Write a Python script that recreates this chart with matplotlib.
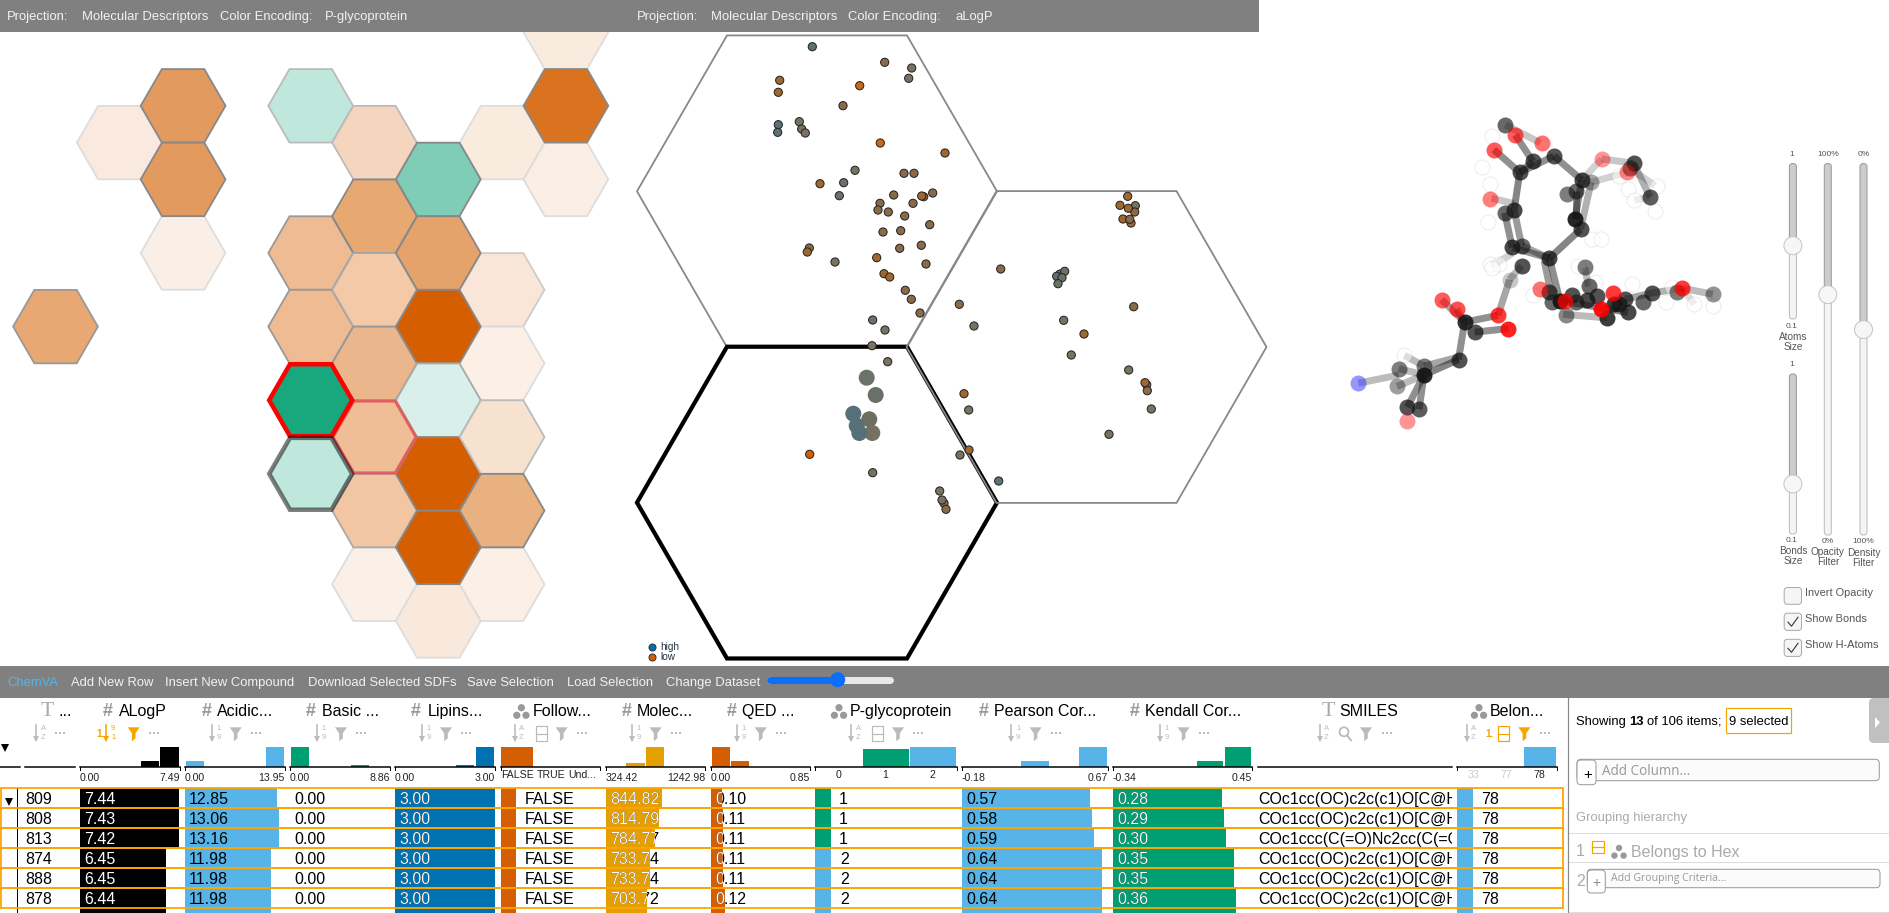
import matplotlib
matplotlib.use("Agg")
import matplotlib.pyplot as plt
from matplotlib.patches import Polygon, Rectangle, Circle, FancyBboxPatch
from matplotlib.transforms import Bbox, TransformedBbox
import numpy as np

plt.rcParams['font.family'] = ['Liberation Sans', 'DejaVu Sans']

# -----------------------------
# Data: hexagon map (grid column, half row, fill, edge)
# -----------------------------
hex_col = [8, 8, 8, 2, 2, 2, 1, 0, 4, 4, 4, 5, 5, 5, 5, 5, 5, 5, 6, 6, 6, 6, 6, 6, 6, 7, 7, 7, 7, 7, 7]
hex_row = [0, 2, 4, 2, 4, 6, 3, 8, 2, 6, 8, 3, 5, 7, 9, 13, 15, 11, 4, 6, 8, 10, 12, 14, 16, 3, 7, 9, 11, 13, 15]
hex_fill = ['#faebdf', '#d97320', '#fbefe5', '#e39a5f', '#e39a5f', '#f9efe6', '#f9e9de', '#e7a873',
            '#c0e7dc', '#eebb92', '#eebb92', '#f5d5bd', '#e7a872', '#f3c9a8', '#ecb68c', '#f2c6a3',
            '#fbf0e7', '#efbd96', '#7fcdb6', '#e6a26b', '#d55e00', '#d9f0ea', '#d55e00', '#d55e00',
            '#f9e9dd', '#faebdf', '#fae6d8', '#fbefe6', '#f7e2d0', '#e9b080', '#fbefe6']
hex_edge = ['#dddddd', '#888888', '#dddddd', '#888888', '#888888', '#dddddd', '#dddddd', '#999999',
            '#bbbbbb', '#999999', '#999999', '#bbbbbb', '#888888', '#aaaaaa', '#999999', '#aaaaaa',
            '#dddddd', '#aaaaaa', '#888888', '#888888', '#888888', '#aaaaaa', '#888888', '#888888',
            '#dddddd', '#dddddd', '#cccccc', '#dddddd', '#bbbbbb', '#888888', '#dddddd']

# Selected hexes, drawn on top: (column, half row, fill)
sel_red = (4, 10, '#19a77e')
sel_soft = (5, 11, '#efbd96')
sel_grey = (4, 12, '#c0e7dc')

# -----------------------------
# Data: projection points (pixel position of screenshot, colour)
# -----------------------------
brown = '#8a6a48'
olive = '#7a7260'
teal = '#5a7276'
orange = '#c86a18'
copper = '#a0682f'
slate = '#6a7268'

pts_x = [812.3, 884.7, 911.7, 908.7, 779.7, 859.7, 778.3, 843, 778.3, 777.7, 799.3, 801.7, 805.3, 880.3, 945,
         855, 904, 914, 820, 843.7, 839.3, 893.7, 923.7, 921.7, 932.7, 880, 913, 878, 888.3, 904.7, 929.7,
         900.7, 883, 921.3, 899.7, 809.3, 807.3, 835, 876.7, 926, 884, 889.7, 905.3, 911.3, 920, 872.7, 885,
         872, 1000.7, 959.3, 974,
         1127.7, 1120, 1135.3, 1134.7, 1128.3, 1123, 1131, 1129.7, 1060, 1064.7, 1056.7, 1062, 1058,
         1133.7, 1063.7, 1084, 1071.3, 1128.7,
         887.7, 1146.7, 1145, 1147.3, 1151.3, 1109, 964, 968.7, 969, 960, 998.7, 809.7, 872.7, 939.7, 944, 942, 946]
pts_y = [46.7, 62.3, 68, 78.3, 80.3, 85.7, 92.3, 105.7, 124.7, 132.3, 121.7, 129, 133, 143, 153,
         170.3, 173.3, 173.3, 183.7, 182.7, 195.7, 195, 196.7, 196, 193, 203.3, 203.3, 210, 212, 216, 224.7,
         230.7, 232, 245.3, 248.3, 248, 252, 262, 257.7, 264, 273.7, 277, 290.3, 299.3, 313, 320, 330,
         345.7, 269, 304.3, 326,
         196.3, 205.3, 205.7, 212, 208.3, 219, 223, 219.3, 274, 271.3, 276.3, 277.7, 283.7,
         306.7, 320.3, 334, 355, 370,
         361.7, 384.7, 382.7, 390.7, 409, 434.3, 393.7, 410, 450, 455, 481, 454.3, 472.7, 491, 503.3, 500, 509.3]
pts_c = [teal, brown, olive, olive, copper, orange, copper, brown, teal, teal, olive, olive, olive, orange, copper,
         olive, brown, brown, copper, slate, slate, brown, brown, copper, brown, brown, brown, brown, brown, brown, brown,
         brown, brown, brown, brown, brown, copper, olive, copper, brown, copper, copper, brown, brown, brown, slate, olive,
         olive, brown, brown, olive,
         copper, copper, olive, brown, copper, copper, copper, brown, slate, slate, teal, slate, slate,
         brown, olive, copper, olive, olive,
         olive, olive, copper, brown, olive, olive, copper, olive, copper, olive, teal, '#d55e00', olive, olive, olive, olive, brown]

big_x = [866.7, 875.7, 853.3, 869.3, 856.7, 872.3, 859.3]
big_y = [377.7, 395, 413.7, 419.3, 425.7, 433, 433]
big_c = ['#6b7268', '#697268', '#557078', '#6d7060', '#5a7078', '#75705f', '#557078']

# -----------------------------
# Data: molecule (read in the crop scale, converted below)
# -----------------------------
carbon = [(547, 70, .7), (585, 203, .8), (620, 172, .8), (676, 157, .8), (750, 224, .85), (735, 255, .7),
          (710, 262, .6), (775, 230, .4), (888, 177, .8), (878, 190, .6), (932, 272, .75), (570, 308, .85),
          (545, 316, .7), (732, 333, 1), (747, 362, .8), (565, 413, .85), (590, 408, .7), (664, 443, .85),
          (592, 464, .8), (758, 469, .6), (662, 538, .8), (692, 562, 1), (672, 565, .7), (725, 545, .8),
          (735, 565, .7), (768, 522, .7), (790, 550, .8), (765, 560, .85), (835, 570, .9), (865, 558, .8),
          (850, 570, .85), (873, 595, .85), (817, 610, .9), (707, 602, .55), (912, 567, .7), (938, 540, .8),
          (1003, 538, .6), (1099, 544, .5), (438, 622, .95), (465, 650, .8), (422, 727, .8), (330, 770, 1),
          (330, 745, .6), (263, 752, .6), (258, 802, .45), (286, 860, .8), (317, 866, .75), (558, 503, .25)]
oxygen = [(573, 98, .7), (643, 121, .6), (516, 139, .7), (803, 165, .45), (870, 203, .5), (506, 278, .55),
          (377, 559, .7), (417, 585, .75), (527, 603, .85), (555, 640, .95), (1018, 527, .85), (800, 584, 1),
          (832, 541, .85), (705, 562, .8), (640, 530, .6), (284, 898, .45)]
nitrogen = [(155, 793, .55)]
hydrogen = [(510, 100), (485, 187), (505, 236), (500, 342), (505, 460), (530, 460), (510, 470), (778, 390),
            (800, 390), (872, 250), (890, 280), (945, 310), (950, 240), (850, 212), (278, 715), (620, 545),
            (885, 515), (975, 565), (1050, 572), (1100, 578), (990, 525), (740, 465), (785, 510)]
bonds = [(547, 70, 640, 120, .25), (573, 98, 620, 172, .5), (516, 139, 585, 203, .5), (585, 203, 676, 157, .5),
         (620, 172, 585, 203, .5), (676, 157, 750, 224, .5), (585, 203, 570, 308, .55), (570, 308, 590, 408, .45),
         (545, 316, 565, 413, .5), (570, 290, 510, 275, .25), (565, 413, 664, 443, .5), (590, 408, 664, 443, .4),
         (664, 443, 747, 362, .55), (750, 224, 732, 333, .5), (735, 255, 735, 333, .5), (775, 230, 747, 362, .35),
         (750, 224, 803, 165, .2), (775, 230, 870, 203, .2), (803, 165, 888, 177, .25), (888, 177, 932, 272, .35),
         (878, 190, 945, 240, .2), (932, 272, 890, 280, .15), (664, 443, 692, 562, .5), (650, 450, 670, 550, .45),
         (565, 430, 510, 465, .2), (590, 464, 558, 503, .3), (558, 503, 527, 603, .4), (527, 603, 438, 622, .5),
         (438, 622, 377, 559, .4), (438, 622, 417, 585, .4), (465, 650, 555, 640, .5), (438, 622, 422, 727, .5),
         (422, 727, 330, 770, .55), (422, 720, 330, 745, .4), (330, 770, 263, 752, .3), (330, 770, 258, 802, .3),
         (263, 770, 155, 793, .3), (330, 770, 286, 860, .5), (330, 770, 317, 866, .5), (330, 745, 278, 715, .3),
         (692, 562, 873, 595, .5), (758, 469, 768, 522, .3), (865, 558, 938, 540, .4), (938, 540, 1018, 527, .35),
         (1018, 527, 1099, 544, .3), (1018, 527, 1050, 572, .15), (700, 600, 817, 610, .3)]

# -----------------------------
# Data: table
# -----------------------------
row_ids = ['809', '808', '813', '874', '888', '878']
alogp = [7.44, 7.43, 7.42, 6.45, 6.45, 6.44, 6.44]
acidic = [12.85, 13.06, 13.16, 11.98, 11.98, 11.98, 11.98]
basic = [0.00, 0.00, 0.00, 0.00, 0.00, 0.00, 0.00]
lipinski = [3.00, 3.00, 3.00, 3.00, 3.00, 3.00, 3.00]
follow = ['FALSE'] * 6
molec = [844.82, 814.79, 784.77, 733.74, 733.74, 703.72, 703.72]
qed = [0.10, 0.11, 0.11, 0.11, 0.11, 0.12, 0.12]
pgly = ['1', '1', '1', '2', '2', '2']
pearson = [0.57, 0.58, 0.59, 0.64, 0.64, 0.64, 0.64]
kendall = [0.28, 0.29, 0.30, 0.35, 0.35, 0.36, 0.36]
smiles = ['COc1cc(OC)c2c(c1)O[C@H]1', 'COc1cc(OC)c2c(c1)O[C@H]1', 'COc1ccc(C(=O)Nc2cc(C(=O)',
          'COc1cc(OC)c2c(c1)O[C@H]1', 'COc1cc(OC)c2c(c1)O[C@H]1', 'COc1cc(OC)c2c(c1)O[C@H]1']
belongs = ['78'] * 6

# x0, x1, lo, hi, colour, values, colour of text inside the bar
num_cols = [
    (80, 179.6, 0.00, 7.49, '#000000', alogp, 'white'),
    (185, 285, 0.00, 13.95, '#56b4e9', acidic, 'black'),
    (290, 390, 0.00, 8.86, '#009e73', basic, 'white'),
    (395, 495, 0.00, 3.00, '#0072b2', lipinski, 'white'),
    (605.6, 705, 324.42, 1242.98, '#e69f00', molec, 'white'),
    (710.7, 809.6, 0.00, 0.85, '#d55e00', qed, 'white'),
    (962, 1107.5, -0.18, 0.67, '#56b4e9', pearson, 'black'),
    (1113, 1252, -0.34, 0.45, '#009e73', kendall, 'white'),
]
num_hist = [
    [0, 0, 0, .31, 1], [.3, 0, 0, 0, 1], [1, 0, 0, .1, 0], [0, 0, 0, .1, 1],
    [0, .2, 1, 0, 0], [1, .31, 0, 0, 0], [0, 0, .31, 0, 1], [0, 0, 0, .31, 1],
]

col_titles = ['...', 'ALogP', 'Acidic...', 'Basic ...', 'Lipins...', 'Follow...', 'Molec...', 'QED ...',
              'P-glycoprotein', 'Pearson Cor...', 'Kendall Cor...', 'SMILES', 'Belon...']
title_x = [58.7, 118.9, 216.8, 322.4, 427.6, 532.6, 636.7, 741.8, 849.9, 994.3, 1145.3, 1339.7, 1489.7]
title_icon_x = [47, 108, 206.6, 311, 416, 521.4, 626.5, 731.6, 839, 984, 1135, 1328.5, 1479]
title_icon = ['T', '#', '#', '#', '#', 'd', '#', '#', 'd', '#', '#', 'T', 'd']

nav_labels = ['ChemVA', 'Add New Row', 'Insert New Compound', 'Download Selected SDFs',
              'Save Selection', 'Load Selection', 'Change Dataset']
nav_x = [7, 71.4, 164.8, 307.7, 467.3, 567.3, 665.8]

head_labels = ['Projection:', 'Molecular Descriptors', 'Color Encoding:', 'P-glycoprotein',
               'Projection:', 'Molecular Descriptors', 'Color Encoding:', 'aLogP']
head_x = [7.3, 82, 220, 325.3, 636.7, 711, 848, 955]

# -----------------------------
# Figure in screenshot pixels
# -----------------------------
fig = plt.figure(figsize=(18.89, 9.13), dpi=100)
ax = fig.add_axes([0, 0, 1, 1])
ax.set_xlim(0, 1889)
ax.set_ylim(913, 0)
ax.axis('off')


def px(v):
    # pixels to points
    return v * 0.72


def txt(x, y, s, size=13, color='black', ha='left', va='center', z=10, **kw):
    return ax.text(x, y, s, fontsize=px(size), color=color, ha=ha, va=va, zorder=z, **kw)


def hex_points(cx, cy, r):
    h = r * np.sqrt(3) / 2
    return [(cx - r, cy), (cx - r / 2, cy - h), (cx + r / 2, cy - h),
            (cx + r, cy), (cx + r / 2, cy + h), (cx - r / 2, cy + h)]


def col_x(c):
    return 55.5 + 63.8 * c


def row_y(r):
    return 32.2 + 36.8 * r


def rect(x0, y0, x1, y1, color, z=2, **kw):
    ax.add_patch(Rectangle((x0, y0), x1 - x0, y1 - y0, facecolor=color, edgecolor='none', zorder=z, **kw))


def clip_text(t, x0, y0, x1, y1):
    # y0 < y1 in the data, the orientation is kept by TransformedBbox
    t.set_clip_box(TransformedBbox(Bbox([[x0, y0], [x1, y1]]), ax.transData))
    t.set_clip_on(True)


# -----------------------------
# Left panel: hex map
# -----------------------------
for c, r, f, e in zip(hex_col, hex_row, hex_fill, hex_edge):
    ax.add_patch(Polygon(hex_points(col_x(c), row_y(r), 42.4), closed=True, facecolor=f,
                         edgecolor=e, linewidth=px(1.8), zorder=2 if e in ('#dddddd', '#cccccc') else 3))

c, r, f = sel_soft
ax.add_patch(Polygon(hex_points(col_x(c), row_y(r), 41.5), closed=True, facecolor=f, edgecolor='#e06060',
                     linewidth=px(3), zorder=4))
c, r, f = sel_red
ax.add_patch(Polygon(hex_points(col_x(c), row_y(r), 41.5), closed=True, facecolor=f, edgecolor='#ff0000',
                     linewidth=px(4.5), zorder=5))
c, r, f = sel_grey
ax.add_patch(Polygon(hex_points(col_x(c), row_y(r), 41.5), closed=True, facecolor=f,
                     edgecolor=(0, 0, 0, 0.5), linewidth=px(4.5), zorder=6))

# -----------------------------
# Middle panel: zoomed hexes with points
# -----------------------------
ax.add_patch(Polygon(hex_points(817, 191.3, 180), closed=True, fill=False, edgecolor='#888888',
                     linewidth=px(1.8), zorder=2))
ax.add_patch(Polygon(hex_points(817, 502.6, 180), closed=True, fill=False, edgecolor='black',
                     linewidth=px(4.2), zorder=3))
ax.add_patch(Polygon(hex_points(1086.5, 347, 180), closed=True, fill=False, edgecolor='#888888',
                     linewidth=px(1.8), zorder=4))

ax.scatter(pts_x, pts_y, s=px(8.2) ** 2, c=pts_c, edgecolors='#222222', linewidths=px(1), zorder=5)
ax.scatter(big_x, big_y, s=px(16) ** 2, c=big_c, linewidths=0, zorder=5)

# legend of the colour scale
ax.scatter([652], [647], s=px(7) ** 2, c='#0072b2', edgecolors='#333333', linewidths=px(1), zorder=5)
ax.scatter([652], [656.7], s=px(7) ** 2, c='#d55e00', edgecolors='#333333', linewidths=px(1), zorder=5)
txt(660, 647, 'high', size=10, color='#223344')
txt(660, 656.7, 'low', size=10, color='#223344')

# -----------------------------
# Molecule
# -----------------------------
def mx(v):
    return v / 2.662 + 1300


def my(v):
    return v / 2.8 + 100


for x0, y0, x1, y1, a in bonds:
    ax.plot([mx(x0), mx(x1)], [my(y0), my(y1)], color='#222222', alpha=a, linewidth=px(7),
            solid_capstyle='butt', zorder=2)
for x, y in hydrogen:
    ax.scatter(mx(x), my(y), s=px(15) ** 2, facecolor=(1, 1, 1, .5), edgecolor=(0, 0, 0, .08),
               linewidths=px(1), zorder=3)
for atoms, colr in ((carbon, '#141414'), (oxygen, '#ff0000'), (nitrogen, '#3030ff')):
    for x, y, a in atoms:
        ax.scatter(mx(x), my(y), s=px(16) ** 2, color=colr, alpha=a * 0.92, linewidths=0, zorder=3)

# sliders
def slider(x, y0, y1, yh):
    ax.add_patch(FancyBboxPatch((x - 3.5, y0), 7, yh - y0, boxstyle='round,pad=0,rounding_size=3',
                                facecolor='#cccccc', edgecolor='#999999', linewidth=px(1), zorder=3))
    ax.add_patch(FancyBboxPatch((x - 3.5, yh), 7, y1 - yh, boxstyle='round,pad=0,rounding_size=3',
                                facecolor='#f4f4f4', edgecolor='#bbbbbb', linewidth=px(1), zorder=3))
    ax.add_patch(Circle((x, yh), 9, facecolor='#f6f6f6', edgecolor='#c5c5c5', linewidth=px(1), zorder=4))


slider(1792.9, 163.6, 319, 245.7)
slider(1792.9, 374, 534, 484)
slider(1827.8, 163.6, 535, 294.6)
slider(1863.5, 163.6, 535, 329.6)

grey_txt = '#555555'
for x, y, s in [(1792, 154, '1'), (1792, 326, '0.1'), (1793, 336.8, 'Atoms'), (1793, 346.8, 'Size'),
                (1792, 364, '1'), (1792, 541, '0.1'), (1793, 550.7, 'Bonds'), (1793, 560.7, 'Size'),
                (1827.8, 154, '100%'), (1827.8, 541.8, '0%'), (1827.8, 552, 'Opacity'), (1827.8, 561.8, 'Filter'),
                (1863.5, 154, '0%'), (1863.5, 541.8, '100%'), (1863.5, 552.8, 'Density'), (1863.5, 562.8, 'Filter')]:
    txt(x, y, s, size=10 if not s[0].isdigit() else 8.5, color=grey_txt, ha='center')

for y0, y1, label, checked in [(587.5, 604.3, 'Invert Opacity', False), (613.2, 630.4, 'Show Bonds', True),
                               (639.3, 656.4, 'Show H-Atoms', True)]:
    ax.add_patch(FancyBboxPatch((1784.2, y0), 17.3, y1 - y0, boxstyle='round,pad=0,rounding_size=3',
                                facecolor='#f5f5f5', edgecolor='#aaaaaa', linewidth=px(1), zorder=3))
    txt(1805.3, y0 + 6, label, size=11, color=grey_txt)
    if checked:
        ax.plot([1788, 1791.5, 1798], [y0 + 9, y0 + 13, y0 + 4], color='#333333', linewidth=px(1.1), zorder=4)

# -----------------------------
# Grey bars
# -----------------------------
rect(0, 0, 1259, 32, '#808080', z=8)
for s, x in zip(head_labels, head_x):
    txt(x, 17.3, s, size=13, color='#f2f2f2')

rect(0, 666, 1889, 697.7, '#808080', z=8)
for i, (s, x) in enumerate(zip(nav_labels, nav_x)):
    txt(x, 683.3, s, size=13, color='#56b4e9' if i == 0 else '#f2f2f2')

ax.plot([770, 890], [679.7, 679.7], color='#e8e8e8', linewidth=px(7), solid_capstyle='round', zorder=9)
ax.plot([770, 838], [679.7, 679.7], color='#0d6efd', linewidth=px(7), solid_capstyle='round', zorder=9)
ax.add_patch(Circle((837.7, 679.7), 7.5, facecolor='#0d6efd', edgecolor='none', zorder=10))

# -----------------------------
# Table header icons
# -----------------------------
ICON = '#bbbbbb'
ORANGE = '#f5a400'


def sort_icon(x, y, top, bot, color=ICON):
    ax.plot([x - 3.5, x - 3.5], [y - 8, y + 7], color=color, linewidth=px(1.6), zorder=10)
    ax.plot([x - 3.5], [y + 6], marker='v', ms=px(6), color=color, mew=0, zorder=10)
    txt(x + 3.5, y - 4.5, top, size=7.5, color=color, ha='center')
    txt(x + 3.5, y + 4.5, bot, size=7.5, color=color, ha='center')


def funnel(x, y, color=ICON):
    ax.add_patch(Polygon([(x - 6, y - 6), (x + 6, y - 6), (x + 1.8, y), (x + 1.8, y + 5),
                          (x - 1.8, y + 8), (x - 1.8, y)], closed=True, facecolor=color,
                         edgecolor='none', zorder=10))


def more(x, y, color=ICON):
    ax.plot([x - 4, x, x + 4], [y, y, y], linestyle='none', marker='s', ms=px(2.8), color=color, mew=0, zorder=10)


def group_rect(x, y, color=ICON):
    ax.add_patch(Rectangle((x - 5.5, y - 7), 11, 15, fill=False, edgecolor=color, linewidth=px(1.2), zorder=10))
    ax.plot([x - 5.5, x + 5.5], [y + .5, y + .5], color=color, linewidth=px(1.2), zorder=10)


def dots(x, y, color='#999999', r=3.6):
    for dx, dy in ((0, -4), (-4.6, 3.6), (4.6, 3.6)):
        ax.add_patch(Circle((x + dx, y + dy), r, facecolor=color, edgecolor='none', zorder=10))


def search(x, y, color=ICON):
    ax.add_patch(Circle((x - 1, y - 1.5), 4.5, fill=False, edgecolor=color, linewidth=px(1.8), zorder=10))
    ax.plot([x + 2, x + 6], [y + 2, y + 7], color=color, linewidth=px(2), zorder=10)


for s, x, kind, ix in zip(col_titles, title_x, title_icon, title_icon_x):
    txt(x, 711.7, s, size=16)
    if kind == '#':
        txt(ix, 711.7, '#', size=18, color='#999999', ha='center', fontweight='bold')
    elif kind == 'T':
        txt(ix, 711.7, 'T', size=22, color='#aaaaaa', ha='center', family='Liberation Serif')
    else:
        dots(ix, 711.7)

ICON_Y = 733.3
sort_icon(39.8, ICON_Y, 'A', 'Z')
more(60, ICON_Y)
txt(100.5, ICON_Y + 1, '1.', size=10, color=ORANGE, ha='center', fontweight='bold')
sort_icon(109.7, ICON_Y, '9', '1', ORANGE)
funnel(133.7, ICON_Y, ORANGE)
more(154, ICON_Y)
for xs, xf, xd in [(215, 235.7, 256), (320, 341, 361), (425.5, 446, 466), (635, 655.6, 676),
                   (740, 760.7, 781), (1014.7, 1035.6, 1055.5), (1163, 1183.6, 1203.5)]:
    sort_icon(xs, ICON_Y, '1', '9')
    funnel(xf, ICON_Y)
    more(xd, ICON_Y)
for xs, xr, xf, xd in [(518, 541, 561.7, 582), (854.5, 877, 898, 917.8)]:
    sort_icon(xs, ICON_Y, 'A', 'Z')
    group_rect(xr, ICON_Y)
    funnel(xf, ICON_Y)
    more(xd, ICON_Y)
sort_icon(1323, ICON_Y, 'A', 'Z')
search(1345, ICON_Y)
funnel(1366, ICON_Y)
more(1386.6, ICON_Y)
sort_icon(1470, ICON_Y, 'A', 'Z')
txt(1490, ICON_Y + 1, '1.', size=10, color=ORANGE, ha='center', fontweight='bold')
group_rect(1503.5, ICON_Y, ORANGE)
funnel(1524.4, ICON_Y, ORANGE)
more(1545, ICON_Y)

# -----------------------------
# Histograms, ranges and cells
# -----------------------------
BASE = 767.3
HIST = 20.3
TOP = 787.7
ROW = 20


def baseline(x0, x1, ticks=True):
    ax.plot([x0, x1], [BASE, BASE], color='black', linewidth=px(1.5), zorder=4)
    if ticks:
        for x in (x0, x1):
            ax.plot([x, x], [BASE, BASE + 3], color='black', linewidth=px(1), zorder=4)


def hist(x0, x1, heights, colors):
    w = (x1 - x0) / len(heights)
    for i, h in enumerate(heights):
        if h > 0:
            colr = colors[i] if isinstance(colors, list) else colors
            rect(x0 + i * w + .8, BASE - HIST * h, x0 + (i + 1) * w - .8, BASE, colr, z=3)


def bicolour_text(x, y, s, x_bar0, x_bar1, inner):
    txt(x, y, s, size=16, color='black', z=5)
    if inner != 'black':
        t2 = txt(x, y, s, size=16, color=inner, z=6)
        clip_text(t2, x_bar0, y - 11, x_bar1, y + 11)


# numeric columns
for (x0, x1, lo, hi, colr, vals, inner), h in zip(num_cols, num_hist):
    hist(x0, x1, h, colr)
    baseline(x0, x1)
    txt(x0, 777.7, f'{lo:.2f}', size=10.5, color='#222222')
    txt(x1, 777.7, f'{hi:.2f}', size=10.5, color='#222222', ha='right')
    tx = x0 + 4.2
    for i, v in enumerate(vals):
        xb = x0 + (x1 - x0) * (v - lo) / (hi - lo)
        rect(x0, TOP + i * ROW, xb, TOP + (i + 1) * ROW, colr, z=3)
        if i < 6:
            bicolour_text(tx, TOP + 11.6 + i * ROW, f'{v:.2f}', x0, xb, inner)

# rank column
baseline(0, 20, ticks=False)
baseline(25, 75, ticks=False)
for i, s in enumerate(row_ids):
    txt(25, TOP + 11.6 + i * ROW, s, size=16)

# categorical columns
baseline(500.5, 600)
hist(500.5, 600, [1, 0, 0], '#d55e00')
for x, s, colr in [(501.5, 'FALSE', '#222222'), (537, 'TRUE', '#222222'), (568, 'Und...', '#222222')]:
    txt(x, 775, s, size=10.5, color=colr)
baseline(815, 957)
hist(815, 957, [0, .9, 1], ['#009e73', '#009e73', '#56b4e9'])
for x, s in [(839, '0'), (885.6, '1'), (932.6, '2')]:
    txt(x, 775, s, size=10.5, color='#222222', ha='center')
baseline(1457, 1557)
hist(1457, 1557, [0, 0, 1], '#56b4e9')
for x, s, colr in [(1473.4, '33', '#cccccc'), (1506.5, '77', '#cccccc'), (1539.7, '78', '#222222')]:
    txt(x, 775, s, size=10.5, color=colr, ha='center')
baseline(1258, 1452, ticks=False)

for i in range(7):
    y0 = TOP + i * ROW
    rect(500.5, y0, 516, y0 + ROW, '#d55e00', z=3)
    rect(815, y0, 831, y0 + ROW, '#009e73' if i < 3 else '#56b4e9', z=3)
    rect(1457, y0, 1473, y0 + ROW, '#56b4e9', z=3)
for i in range(6):
    y = TOP + 11.6 + i * ROW
    txt(524.5, y, follow[i], size=16)
    txt(838.7 if i < 3 else 840, y, pgly[i], size=16)
    txt(1481, y, belongs[i], size=16)
    t = txt(1258.6, y, smiles[i], size=16)
    clip_text(t, 1255, y - 11, 1452, y + 11)

# selection frames and expand arrows
for i in range(6):
    y0 = TOP + i * ROW
    ax.add_patch(Rectangle((0.8, y0), 1562, ROW, fill=False, edgecolor='#ffa500', linewidth=px(1.8), zorder=7))
ax.plot([17, 17], [TOP, 913], color='black', linewidth=px(1), zorder=6)
ax.plot([5], [748], marker='v', ms=px(8), color='black', mew=0, zorder=7)
ax.plot([8.7], [802], marker='v', ms=px(8), color='black', mew=0, zorder=8)

# -----------------------------
# Side panel
# -----------------------------
ax.plot([1568.3, 1568.3], [698, 913], color='#888888', linewidth=px(1.2), zorder=4)
txt(1576, 721.7, 'Showing ', size=13)
txt(1629, 721.7, '13', size=13, fontweight='bold')
txt(1647, 721.7, 'of 106 items;', size=13)
ax.add_patch(Rectangle((1726, 708), 64.7, 24.7, fill=False, edgecolor=ORANGE, linewidth=px(1.2), zorder=5))
txt(1729, 721.7, '9 selected', size=13)

ax.add_patch(FancyBboxPatch((1869, 698), 30, 45, boxstyle='round,pad=0,rounding_size=5',
                            facecolor='#c0c0c0', edgecolor='none', zorder=5))
ax.add_patch(Polygon([(1875, 717), (1880, 722.5), (1875, 728)], closed=True, facecolor='white',
                     edgecolor='none', zorder=6))

ax.add_patch(FancyBboxPatch((1577, 759.3), 302.3, 21.4, boxstyle='round,pad=0,rounding_size=4',
                            facecolor='#fbfbfb', edgecolor='#999999', linewidth=px(1), zorder=5))
ax.add_patch(FancyBboxPatch((1577, 760), 19, 24.7, boxstyle='round,pad=0,rounding_size=4',
                            facecolor='white', edgecolor='#999999', linewidth=px(1), zorder=6))
txt(1587.7, 775, '+', size=15, ha='center', z=7)
txt(1602, 771.7, 'Add Column...', size=13.5, color='#999999', family='Open Sans')

GROUP = '#aaaaaa'
txt(1576, 818, 'Grouping hierarchy', size=13, color=GROUP)
for y in (833, 862.3, 911.7):
    ax.plot([1569, 1889], [y, y], color='#dddddd', linewidth=px(1), zorder=4)
txt(1576, 852, '1', size=16, color=GROUP)
ax.add_patch(Rectangle((1591.7, 841), 12, 12.5, fill=False, edgecolor=ORANGE, linewidth=px(1.2), zorder=5))
ax.plot([1591.7, 1603.7], [847, 847], color=ORANGE, linewidth=px(1.2), zorder=5)
dots(1619, 852, color='#999999', r=3.2)
txt(1630.7, 852, 'Belongs to Hex', size=16, color=GROUP)
txt(1576, 881, '2', size=16, color=GROUP)
ax.add_patch(FancyBboxPatch((1587.3, 869.3), 292.7, 18.4, boxstyle='round,pad=0,rounding_size=4',
                            facecolor='#fbfbfb', edgecolor='#999999', linewidth=px(1), zorder=5))
ax.add_patch(FancyBboxPatch((1587.3, 870), 18, 23, boxstyle='round,pad=0,rounding_size=4',
                            facecolor='white', edgecolor='#999999', linewidth=px(1), zorder=6))
txt(1596.7, 883, '+', size=14, color='#888888', ha='center', z=7)
txt(1611, 879, 'Add Grouping Criteria...', size=10.5, color='#999999', family='Open Sans')

fig.savefig('out.png', dpi=100)
